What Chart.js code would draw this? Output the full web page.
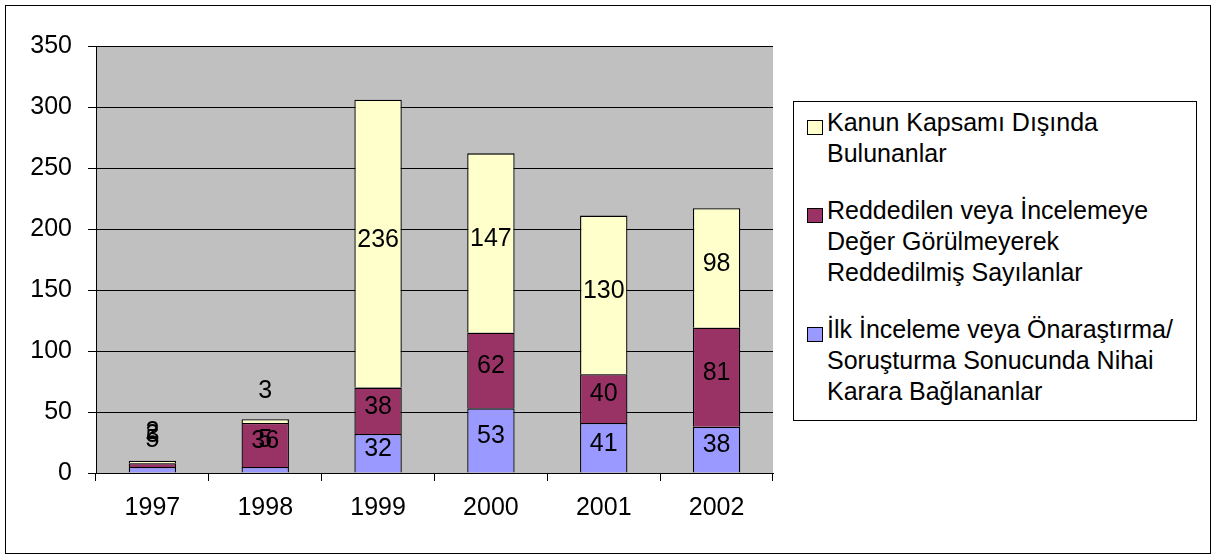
<!DOCTYPE html>
<html>
<head>
<meta charset="utf-8">
<script src="https://cdn.jsdelivr.net/npm/chart.js@4.4.0/dist/chart.umd.min.js"></script>
<style>
  body { margin: 0; background: #fff; font-family: "Liberation Sans", Arial, sans-serif; }
  #frame { position: absolute; left: 5px; top: 5px; width: 1204px; height: 547px; border: 1px solid #000; }
  #wrap { position: absolute; left: 0; top: 0; width: 1213px; height: 554px; }
  #legend { position: absolute; left: 793px; top: 101px; width: 404px; height: 320px; border: 1px solid #000; background: #fff; box-sizing: border-box; padding: 5px 0 0 13px; }
  .item { display: flex; align-items: flex-start; margin-bottom: 26px; }
  .box { width: 14px; height: 13px; border: 1px solid #000; margin-top: 13px; margin-right: 4px; flex: none; }
  .txt { font-size: 25px; line-height: 31px; color: #000; white-space: nowrap; }
</style>
</head>
<body>
<div id="frame"></div>
<div id="wrap"><canvas id="chart" width="1213" height="554"></canvas></div>
<div id="legend"></div>
<script>
const years = ['1997', '1998', '1999', '2000', '2001', '2002'];
const ilkInceleme = [5, 5, 32, 53, 41, 38];
const reddedilen = [3, 36, 38, 62, 40, 81];
const kanunDisi = [2, 3, 236, 147, 130, 98];

const seriesNames = [
  ['İlk İnceleme veya Önaraştırma/', 'Soruşturma Sonucunda Nihai', 'Karara Bağlananlar'],
  ['Reddedilen veya İncelemeye', 'Değer Görülmeyerek', 'Reddedilmiş Sayılanlar'],
  ['Kanun Kapsamı Dışında', 'Bulunanlar']
];
const colors = ['#9999FF', '#993366', '#FFFFCC'];
const fontFamily = '"Liberation Sans", Arial, sans-serif';

// grey plot background
const plotBg = {
  id: 'plotBg',
  beforeDraw(chart) {
    const a = chart.chartArea, ctx = chart.ctx;
    ctx.save();
    ctx.fillStyle = '#C0C0C0';
    ctx.fillRect(a.left, a.top, a.right - a.left, a.bottom - a.top);
    ctx.restore();
  }
};

// value labels in the segments (pushed up when the segment is too thin)
const barLabels = {
  id: 'barLabels',
  afterDatasetsDraw(chart) {
    const ctx = chart.ctx;
    ctx.save();
    ctx.font = '25px ' + fontFamily;
    ctx.fillStyle = '#000';
    ctx.textAlign = 'center';
    ctx.textBaseline = 'middle';
    chart.data.datasets.forEach((ds, i) => {
      chart.getDatasetMeta(i).data.forEach((bar, j) => {
        const h = bar.base - bar.y;
        let y = (bar.y + bar.base) / 2 - 4;
        if (h < 20) y -= 26;
        ctx.fillText(ds.data[j], bar.x, y);
      });
    });
    ctx.restore();
  }
};

const ctx = document.getElementById('chart').getContext('2d');
const chart = new Chart(ctx, {
  type: 'bar',
  data: {
    labels: years,
    datasets: [ilkInceleme, reddedilen, kanunDisi].map((d, i) => ({
      label: seriesNames[i].join(' '),
      data: d,
      backgroundColor: colors[i],
      borderColor: '#000',
      borderWidth: 1.3,
      barPercentage: 1,
      categoryPercentage: 0.42
    }))
  },
  options: {
    responsive: false,
    animation: false,
    layout: { padding: { left: 0, top: 46, right: 440, bottom: 0 } },
    plugins: { legend: { display: false }, tooltip: { enabled: false } },
    scales: {
      x: {
        stacked: true,
        afterFit: s => { s.height = 81; },
        border: { color: '#000', width: 1 },
        grid: { drawOnChartArea: false, color: '#000', tickLength: 8 },
        ticks: { color: '#000', font: { size: 25, family: fontFamily }, padding: 12, maxRotation: 0 }
      },
      y: {
        stacked: true,
        min: 0,
        max: 350,
        afterFit: s => { s.width = 96; },
        border: { color: '#000', width: 1 },
        grid: { color: '#000', tickLength: 8 },
        ticks: { stepSize: 50, color: '#000', font: { size: 25, family: fontFamily }, padding: 16 }
      }
    }
  },
  plugins: [plotBg, barLabels]
});

// legend, top to bottom like the stack
const legend = document.getElementById('legend');
[2, 1, 0].forEach(i => {
  const item = document.createElement('div');
  item.className = 'item';
  const box = document.createElement('div');
  box.className = 'box';
  box.style.background = colors[i];
  const txt = document.createElement('div');
  txt.className = 'txt';
  txt.innerHTML = seriesNames[i].join('<br>');
  item.appendChild(box);
  item.appendChild(txt);
  legend.appendChild(item);
});
</script>
</body>
</html>
